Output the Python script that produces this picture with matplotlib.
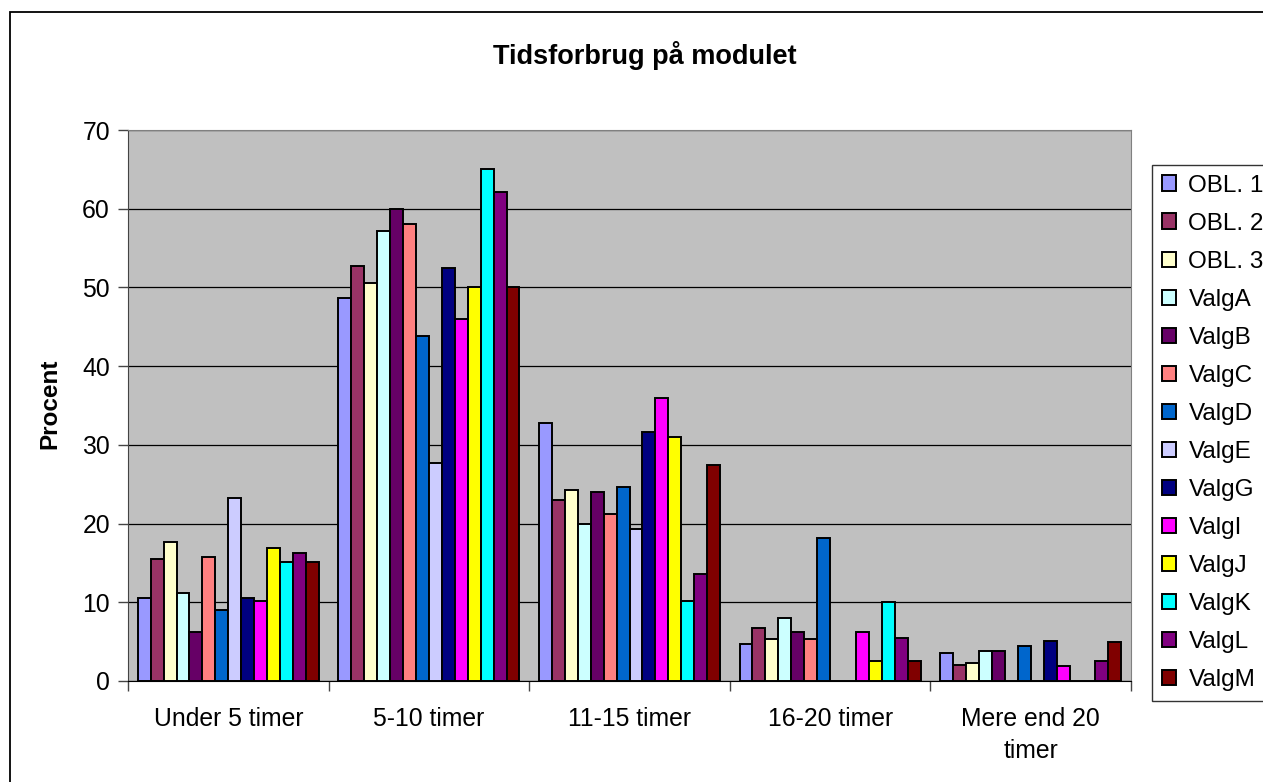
import numpy as np
import matplotlib
matplotlib.use('Agg')
import matplotlib.pyplot as plt
from matplotlib.patches import Rectangle

plt.rcParams['font.family'] = ['Liberation Sans', 'DejaVu Sans']

# Data
categories = ['Under 5 timer', '5-10 timer', '11-15 timer', '16-20 timer', 'Mere end 20\ntimer']
series = ['OBL. 1', 'OBL. 2', 'OBL. 3', 'ValgA', 'ValgB', 'ValgC', 'ValgD',
          'ValgE', 'ValgG', 'ValgI', 'ValgJ', 'ValgK', 'ValgL', 'ValgM']

obl1 = [10.5, 48.7, 32.8, 4.7, 3.6]
obl2 = [15.5, 52.7, 23.0, 6.7, 2.0]
obl3 = [17.7, 50.6, 24.3, 5.3, 2.3]
valg_a = [11.2, 57.2, 19.9, 8.0, 3.8]
valg_b = [6.2, 60.0, 24.0, 6.2, 3.8]
valg_c = [15.8, 58.0, 21.2, 5.3, 0]
valg_d = [9.0, 43.8, 24.7, 18.2, 4.5]
valg_e = [23.2, 27.7, 19.3, 0, 0]
valg_g = [10.5, 52.5, 31.6, 0, 5.1]
valg_i = [10.1, 46.0, 36.0, 6.2, 1.9]
valg_j = [16.9, 50.0, 31.0, 2.5, 0]
valg_k = [15.1, 65.0, 10.1, 10.0, 0]
valg_l = [16.2, 62.1, 13.6, 5.5, 2.5]
valg_m = [15.1, 50.0, 27.5, 2.5, 4.9]

values = [obl1, obl2, obl3, valg_a, valg_b, valg_c, valg_d,
          valg_e, valg_g, valg_i, valg_j, valg_k, valg_l, valg_m]

colors = ['#9999FF', '#993366', '#FFFFCC', '#CCFFFF', '#660066', '#FF8080', '#0066CC',
          '#CCCCFF', '#000080', '#FF00FF', '#FFFF00', '#00FFFF', '#800080', '#800000']

W, H = 1263, 782
fig = plt.figure(figsize=(W / 100, H / 100), dpi=100)

# outer chart border
fig.patches.append(Rectangle((9.5 / W, -0.1), 1.2, 1.1 - 12 / H,
                             transform=fig.transFigure, fill=False,
                             edgecolor='black', linewidth=1.3))

ax = fig.add_axes([128 / W, 1 - 681 / H, 1003 / W, 551 / H])
ax.set_facecolor('#C0C0C0')

n = len(series)
w = 1 / (n + 1.5)
x = np.arange(len(categories))
for j in range(n):
    ax.bar(x - n * w / 2 + (j + 0.5) * w, values[j], width=w,
           color=colors[j], edgecolor='black', linewidth=1.4,
           label=series[j], zorder=3)

ax.set_xlim(-0.5, len(categories) - 0.5)
ax.set_ylim(0, 70)
ax.set_yticks(np.arange(0, 71, 10))
ax.yaxis.grid(True, color='black', linewidth=0.9, zorder=1)
ax.set_axisbelow(True)

ax.set_xticks(x)
ax.set_xticklabels(categories, linespacing=1.4)
ax.set_xticks(np.arange(-0.5, len(categories), 1), minor=True)
ax.tick_params(axis='x', which='major', length=0, pad=19, labelsize=17.8)
ax.tick_params(axis='x', which='minor', length=7, width=1, color='#444444', direction='out')
ax.tick_params(axis='y', length=7, width=1, color='#444444', pad=6, labelsize=17.8)

for s in ['top', 'right']:
    ax.spines[s].set_color('#808080')
ax.spines['left'].set_color('#444444')
ax.spines['bottom'].set_color('black')

fig.text(645 / W, 1 - 55 / H, 'Tidsforbrug på modulet', ha='center', va='center',
         fontsize=19.5, fontweight='bold')
fig.text(50 / W, 1 - 404 / H, 'Procent', ha='center', va='center', rotation=90,
         fontsize=17.5, fontweight='bold')

leg = fig.legend(loc='upper left', bbox_to_anchor=(1152 / W, 1 - 165 / H),
                 fontsize=17.5, frameon=True, fancybox=False, edgecolor='black',
                 handlelength=0.6, handleheight=0.6, handletextpad=0.5,
                 labelspacing=0.66, borderpad=0.4, borderaxespad=0)
leg.get_frame().set_linewidth(1.0)

fig.savefig('out.png', dpi=100)
